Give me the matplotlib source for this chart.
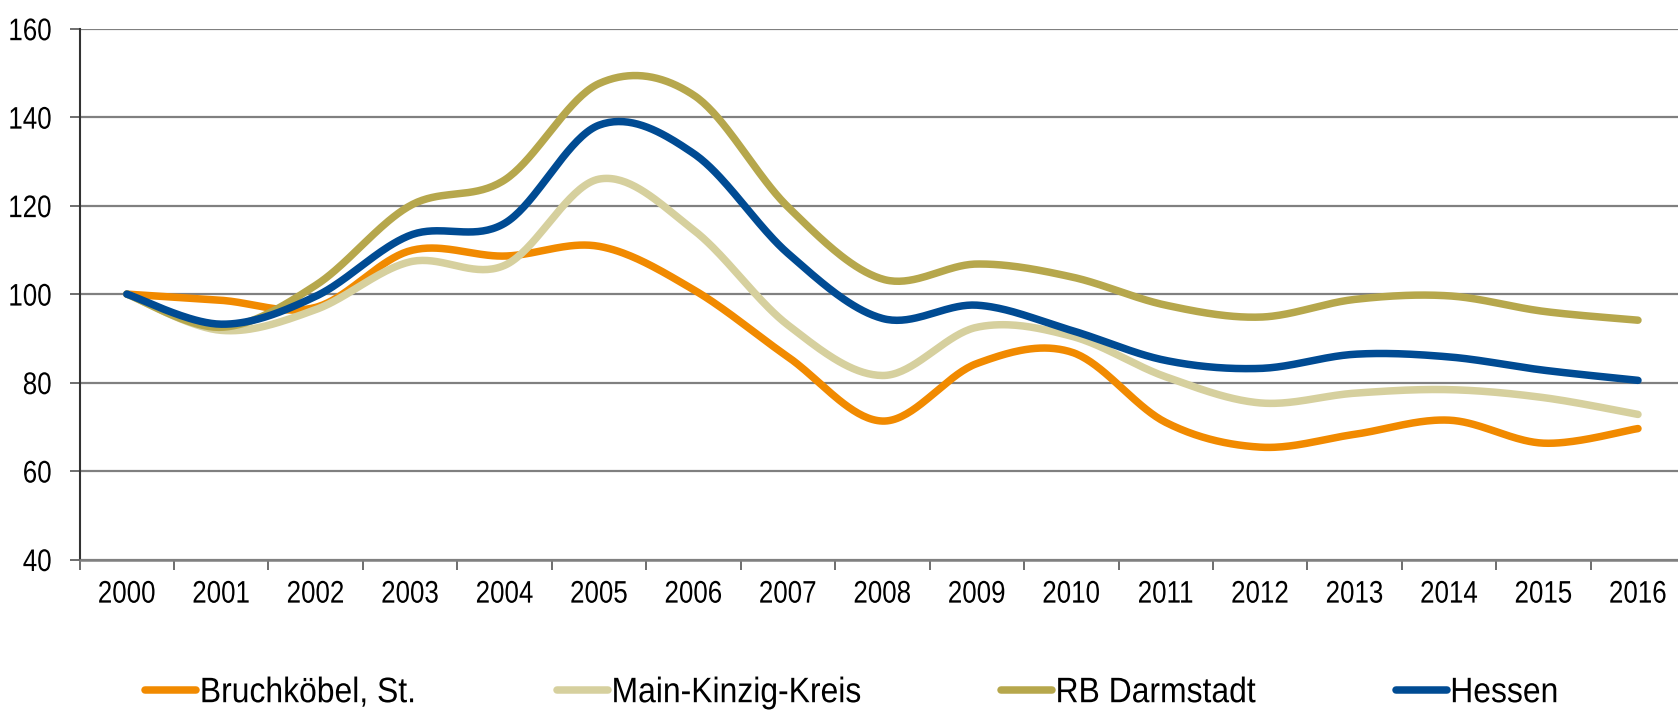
import numpy as np
import matplotlib
matplotlib.use("Agg")
import matplotlib.pyplot as plt
from matplotlib.lines import Line2D
from matplotlib.patheffects import AbstractPathEffect
from matplotlib.transforms import Affine2D

years = [str(y) for y in range(2000, 2017)]
bruchkoebel = [100, 98.6, 97.0, 109.8, 108.6, 110.8, 101.0, 85.8, 71.3, 84.3, 86.9, 71.0, 65.4, 68.3, 71.5, 66.3, 69.6]
main_kinzig = [100, 91.8, 96.5, 107.3, 106.5, 126.0, 114.5, 93.0, 81.6, 92.5, 90.5, 81.3, 75.4, 77.6, 78.4, 76.6, 72.8]
rb_darmstadt = [100, 92.5, 102.0, 120.0, 125.8, 147.6, 145.0, 119.7, 103.4, 106.8, 103.9, 97.5, 94.8, 98.8, 99.6, 96.1, 94.1]
hessen = [100, 93.2, 99.5, 113.3, 116.0, 138.2, 131.8, 109.2, 94.5, 97.5, 91.8, 85.0, 83.2, 86.4, 85.8, 82.8, 80.5]

series_names = ["Bruchköbel, St.", "Main-Kinzig-Kreis", "RB Darmstadt", "Hessen"]
series_values = [bruchkoebel, main_kinzig, rb_darmstadt, hessen]
colors = ["#F18A00", "#D6D09E", "#B6A74C", "#004B93"]
y_ticks = [40, 60, 80, 100, 120, 140, 160]

plt.rcParams["font.family"] = ["Liberation Sans", "DejaVu Sans"]
TICK_FS = 22.5
LEG_FS = 25.5
SX = 0.83
SX_LEG = 0.9


class Condense(AbstractPathEffect):
    """Draw text horizontally condensed (narrow font look)."""

    def __init__(self, sx, anchor="left"):
        super().__init__()
        self.sx = sx
        self.anchor = anchor

    def draw_path(self, renderer, gc, tpath, affine, rgbFace=None):
        v = tpath.vertices
        a = 0.0
        if len(v):
            if self.anchor == "center":
                a = (v[:, 0].min() + v[:, 0].max()) / 2.0
            elif self.anchor == "right":
                a = v[:, 0].max()
        t = Affine2D().translate(-a, 0).scale(self.sx, 1).translate(a, 0) + affine
        renderer.draw_path(gc, tpath, t, rgbFace)


def smooth(x, y, n=40):
    """Catmull-Rom style Bezier smoothing (like spreadsheet smoothed lines)."""
    x = np.asarray(x, float)
    y = np.asarray(y, float)
    px = np.concatenate([[x[0]], x, [x[-1]]])
    py = np.concatenate([[y[0]], y, [y[-1]]])
    xs, ys = [], []
    t = np.linspace(0, 1, n)
    for i in range(1, len(px) - 2):
        p0 = np.array([px[i - 1], py[i - 1]])
        p1 = np.array([px[i], py[i]])
        p2 = np.array([px[i + 1], py[i + 1]])
        p3 = np.array([px[i + 2], py[i + 2]])
        c1 = p1 + (p2 - p0) / 6.0
        c2 = p2 - (p3 - p1) / 6.0
        b = ((1 - t) ** 3)[:, None] * p1 + (3 * (1 - t) ** 2 * t)[:, None] * c1 \
            + (3 * (1 - t) * t ** 2)[:, None] * c2 + (t ** 3)[:, None] * p2
        if i > 1:
            b = b[1:]
        xs.append(b[:, 0])
        ys.append(b[:, 1])
    return np.concatenate(xs), np.concatenate(ys)


W, H = 1678, 715
fig = plt.figure(figsize=(W / 100, H / 100), dpi=100)
ax = fig.add_axes([79.6 / W, 1 - 559.5 / H, 1605.6 / W, (559.5 - 28.7) / H])

x = np.arange(len(years))
for vals, col in zip(series_values, colors):
    sx, sy = smooth(x, vals)
    ax.plot(sx, sy, color=col, lw=5.4, solid_capstyle="round", solid_joinstyle="round", zorder=3)

ax.set_xlim(-0.5, len(years) - 0.5)
ax.set_ylim(40, 160)
ax.set_yticks(y_ticks)
ax.set_yticklabels([str(v) for v in y_ticks], fontsize=TICK_FS)
ax.set_xticks(x)
ax.set_xticklabels(years, fontsize=TICK_FS)
ax.set_xticks(np.arange(-0.5, len(years), 1), minor=True)
ax.tick_params(axis="x", which="major", length=0, pad=14.5)
ax.tick_params(axis="x", which="minor", length=7, width=1.2, color="#555555", direction="out")
ax.tick_params(axis="y", length=7, width=1.2, color="#555555", pad=13)
for lab in ax.get_yticklabels():
    lab.set_path_effects([Condense(SX, "right")])
for lab in ax.get_xticklabels():
    lab.set_path_effects([Condense(SX, "center")])

ax.grid(axis="y", color="#808080", lw=1.6, zorder=1)
ax.set_axisbelow(True)
for s in ["top", "right"]:
    ax.spines[s].set_visible(False)
ax.spines["left"].set_color("#333333")
ax.spines["left"].set_linewidth(1.5)
ax.spines["bottom"].set_color("#808080")
ax.spines["bottom"].set_linewidth(1.8)

# legend entries, placed individually like the original
legend_px = [145.3, 557.0, 1001.0, 1395.7]
for name, col, lx in zip(series_names, colors, legend_px):
    h = Line2D([0], [0], color=col, lw=5.4, solid_capstyle="round")
    leg = fig.legend([h], [name], loc="center left", bbox_to_anchor=(lx / W, 1 - 692.7 / H),
                     frameon=False, fontsize=LEG_FS, handlelength=1.44, handletextpad=0.1,
                     borderpad=0, borderaxespad=0)
    for t in leg.get_texts():
        t.set_path_effects([Condense(SX_LEG, "left")])

fig.savefig("out.png", dpi=100)
